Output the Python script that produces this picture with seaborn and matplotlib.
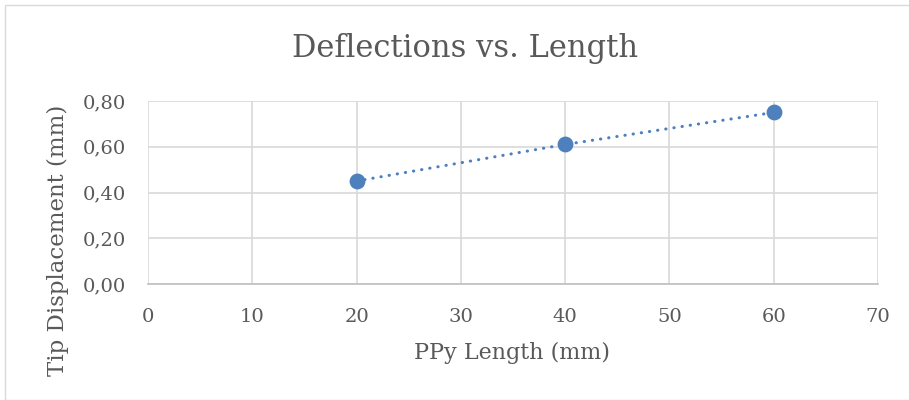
import matplotlib
matplotlib.use("Agg")
import matplotlib.pyplot as plt
import seaborn as sns
import pandas as pd
from matplotlib.patches import Rectangle
from matplotlib.ticker import FuncFormatter, MultipleLocator

lengths = [20, 40, 60]
displacements = [0.45, 0.61, 0.75]
title = "Deflections vs. Length"
xlabel = "PPy Length (mm)"
ylabel = "Tip Displacement (mm)"

sns.set_style("white")
plt.rcParams['font.family'] = ['DejaVu Serif']

df = pd.DataFrame({"x": lengths, "y": displacements})
color = "#4E80BD"
textc = "#595959"

fig = plt.figure(figsize=(9.09, 4.0), dpi=100)
ax = fig.add_axes([148/909, 1-284/400, (878-148)/909, (284-101)/400])

sns.lineplot(data=df, x="x", y="y", ax=ax, color=color, linewidth=2.2,
             linestyle=(0, (0.1, 2.6)), dash_capstyle="round", zorder=3)
sns.scatterplot(data=df, x="x", y="y", ax=ax, color=color, s=130,
                edgecolor=color, linewidth=0, zorder=4)

ax.set_xlim(0, 70)
ax.set_ylim(0, 0.8)
ax.xaxis.set_major_locator(MultipleLocator(10))
ax.yaxis.set_major_locator(MultipleLocator(0.2))
ax.yaxis.set_major_formatter(FuncFormatter(lambda v, p: f"{v:.2f}".replace(".", ",")))
ax.grid(True, color="#D9D9D9", linewidth=1.2)
ax.set_axisbelow(True)
for s in ["top", "right", "left"]:
    ax.spines[s].set_visible(False)
ax.spines["bottom"].set_color("#BFBFBF")
ax.spines["bottom"].set_linewidth(1.2)
ax.tick_params(axis="both", length=0, labelsize=14, colors=textc)
ax.tick_params(axis="x", pad=17)
ax.tick_params(axis="y", pad=16)

ax.set_xlabel(xlabel, fontsize=16, color=textc)
ax.set_ylabel(ylabel, fontsize=16.5, color=textc)
ax.xaxis.set_label_coords(512/909, 1-353/400, transform=fig.transFigure)
ax.yaxis.set_label_coords(58/909, 1-240/400, transform=fig.transFigure)
ax.xaxis.label.set_va("center")
ax.yaxis.label.set_va("center")
fig.text(465/909, 1-48/400, title, ha="center", va="center", fontsize=22, color=textc)

fig.patches.append(Rectangle((5/909, 0.5/400), 1.0, (399-4)/400, transform=fig.transFigure,
                             fill=False, edgecolor="#D9D9D9", linewidth=1))

fig.savefig("out.png", dpi=100)
